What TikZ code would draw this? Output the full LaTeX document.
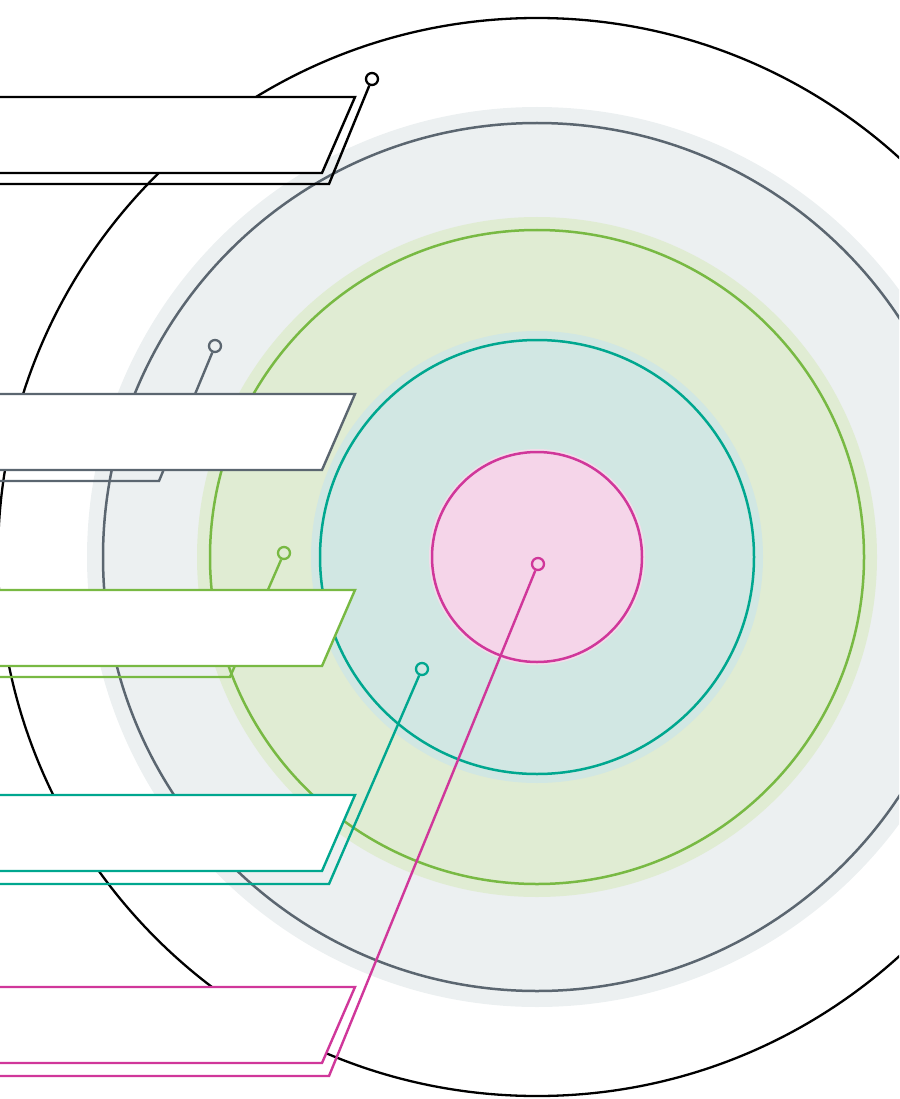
\documentclass[tikz,border=0pt]{standalone}
\usetikzlibrary{calc}
\definecolor{cblack}{HTML}{000000}
\definecolor{cgray}{HTML}{5B6670}
\definecolor{cgreen}{HTML}{78B943}
\definecolor{cteal}{HTML}{00A78F}
\definecolor{cpink}{HTML}{D0379A}
\definecolor{hgray}{HTML}{ECF0F1}
\definecolor{hgreen}{HTML}{E0ECD3}
\definecolor{hteal}{HTML}{D1E7E3}
\definecolor{hpink}{HTML}{F5D5E9}
\definecolor{hpinkl}{HTML}{F2DDEA}
\begin{document}
\begin{tikzpicture}[x=1pt,y=-1pt,
  ring/.style={line width=2.5pt},
  pinmark/.style={circle,draw,line width=2.3pt,minimum size=12pt,inner sep=0pt},
  leader/.style={line width=2.4pt},
  frontbox/.style={fill=white,line width=2.4pt,line join=miter}]
\useasboundingbox (0,0) rectangle (899,1099);
\clip (0,0) rectangle (899,1099);
\coordinate (C) at (537,557);
% halos and rings
\fill[hgray] (C) circle[radius=450];
\fill[hgreen] (C) circle[radius=340];
\fill[hteal] (C) circle[radius=226];
\fill[hpinkl] (C) circle[radius=108];
\fill[hpink] (C) circle[radius=105];
\draw[cblack,line width=2.3pt] (C) circle[radius=539];
\draw[ring,cgray] (C) circle[radius=434];
\draw[ring,cgreen] (C) circle[radius=327];
\draw[ring,cteal] (C) circle[radius=217];
\draw[ring,cpink] (C) circle[radius=105];
% pins
\node[pinmark,draw=cblack] (p1) at (372,79) {};
\node[pinmark,draw=cgray] (p2) at (215,346) {};
\node[pinmark,draw=cgreen] (p3) at (284,553) {};
\node[pinmark,draw=cteal] (p4) at (422,669) {};
\node[pinmark,draw=cpink] (p5) at (538,564) {};
% back corners
\coordinate (b1) at (329,184); \coordinate (e1) at (-5,184);
\coordinate (b2) at (159,481); \coordinate (e2) at (-5,481);
\coordinate (b3) at (230,677); \coordinate (e3) at (-5,677);
\coordinate (b4) at (329,884); \coordinate (e4) at (-5,884);
\coordinate (b5) at (329,1076); \coordinate (e5) at (-5,1076);
\draw[leader,cblack] (p1) -- (b1) -- (e1);
\draw[leader,cgray] (p2) -- (b2) -- (e2);
\draw[leader,cgreen] (p3) -- (b3) -- (e3);
\draw[leader,cteal] (p4) -- (b4) -- (e4);
\draw[leader,cpink] (p5) -- (b5) -- (e5);
% front boxes
\draw[frontbox,draw=cblack] (-5,97) -- (355,97) -- (322,173) -- (-5,173) -- cycle;
\draw[frontbox,draw=cgray] (-5,394) -- (355,394) -- (322,470) -- (-5,470) -- cycle;
\draw[frontbox,draw=cgreen] (-5,590) -- (355,590) -- (322,666) -- (-5,666) -- cycle;
\draw[frontbox,draw=cteal] (-5,795) -- (355,795) -- (322,871) -- (-5,871) -- cycle;
\draw[frontbox,draw=cpink] (-5,987) -- (355,987) -- (322,1063) -- (-5,1063) -- cycle;
\end{tikzpicture}
\end{document}
